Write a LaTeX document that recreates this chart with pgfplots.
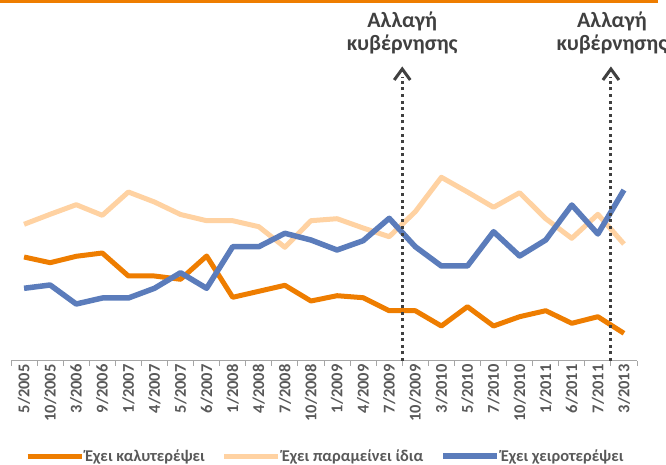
\documentclass[border=0pt]{standalone}
\usepackage{fontspec}
\setmainfont{Carlito}[BoldFont={Carlito Bold}]
\usepackage{pgfplots}
\pgfplotsset{compat=1.18}
\definecolor{corange}{HTML}{EE7D00}
\definecolor{cpeach}{HTML}{FFD2A2}
\definecolor{cblue}{HTML}{5B7CBB}
\definecolor{txtgray}{HTML}{595959}
\definecolor{arrgray}{HTML}{404040}
\definecolor{axgray}{HTML}{A6A6A6}
\begin{document}
\begin{tikzpicture}
\useasboundingbox (0,0) rectangle (666bp,465bp);
\fill[corange] (0,462bp) rectangle (658bp,465bp);
\begin{axis}[
  at={(11bp,104bp)}, anchor=south west,
  scale only axis, width=626bp, height=296bp,
  xmin=-0.5, xmax=23.5, ymin=0, ymax=296,
  axis y line=none, axis x line*=bottom,
  axis line style={-},
  x axis line style={axgray, line width=1bp},
  xtick={0,...,23},
  xticklabels={5/2005,10/2005,3/2006,9/2006,1/2007,4/2007,5/2007,6/2007,1/2008,4/2008,7/2008,10/2008,1/2009,4/2009,7/2009,10/2009,3/2010,5/2010,7/2010,10/2010,1/2011,6/2011,7/2011,3/2013},
  major tick length=0pt,
  minor xtick={-0.5,0.5,...,23.5},
  minor tick length=5bp, tick align=outside,
  minor x tick style={axgray, line width=1bp},
  ytick=\empty,
  xticklabel style={rotate=90, anchor=east, font=\bfseries\fontsize{16.5}{19}\selectfont, text=txtgray},
  clip=false,
  legend columns=3,
  legend style={at={(rel axis cs:0.0303,-0.328)}, xshift=-5bp, yshift=2bp, anchor=west, draw=none, fill=none,
    font=\bfseries\fontsize{16.5}{19}\selectfont, text=txtgray, inner sep=0pt,
    nodes={inner sep=1bp},
    /tikz/every even column/.append style={column sep=16bp}},
  legend image code/.code={\draw[#1] (0bp,0bp) -- (54bp,0bp);},
]
\addplot[corange, line width=5bp, line join=round] coordinates {
(0,104) (1,98.3) (2,104.7) (3,108) (4,85) (5,85) (6,81.7) (7,105) (8,63.7) (9,69.7) (10,75.7) (11,60)
(12,65.3) (13,63.3) (14,50.3) (15,50.3) (16,35) (17,54.3) (18,35) (19,44.3) (20,50.3) (21,37.7) (22,44.3) (23,27.7)};
\addlegendentry{Έχει καλυτερέψει}
\addplot[cpeach, line width=5bp, line join=round] coordinates {
(0,136.7) (1,146.7) (2,156.3) (3,145.7) (4,169) (5,159) (6,146.5) (7,140.3) (8,140.3) (9,134.3) (10,113.7) (11,140.3)
(12,142.3) (13,133) (14,124.3) (15,149.3) (16,183.7) (17,169) (18,153.7) (19,168.3) (20,142.3) (21,122.7) (22,146.7) (23,117)};
\addlegendentry{Έχει παραμείνει ίδια}
\addplot[cblue, line width=5.5bp, line join=round] coordinates {
(0,72.7) (1,76) (2,57) (3,63) (4,63) (5,72.7) (6,88.3) (7,72.7) (8,114.3) (9,114.3) (10,127.7) (11,121)
(12,111) (13,120.3) (14,142.7) (15,114.3) (16,95) (17,95) (18,129.3) (19,105) (20,121) (21,156) (22,127) (23,171)};
\addlegendentry{Έχει χειροτερέψει}
\draw[arrgray, line width=3bp, dash pattern=on 3bp off 3.6bp] (axis cs:14.5,0) -- (axis cs:14.5,284);
\draw[arrgray, line width=3bp, miter limit=10] (axis cs:14.5,292) ++(-8bp,-11bp) -- (axis cs:14.5,292) -- ++(8bp,-11bp);
\draw[arrgray, line width=3bp, dash pattern=on 3bp off 3.6bp] (axis cs:22.5,0) -- (axis cs:22.5,284);
\draw[arrgray, line width=3bp, miter limit=10] (axis cs:22.5,292) ++(-8bp,-11bp) -- (axis cs:22.5,292) -- ++(8bp,-11bp);
\node[font=\bfseries\fontsize{22}{26}\selectfont, text=arrgray, anchor=base] at (axis cs:14.5,333) {Αλλαγή};
\node[font=\bfseries\fontsize{22}{26}\selectfont, text=arrgray, anchor=base] at (axis cs:14.5,310) {κυβέρνησης};
\node[font=\bfseries\fontsize{22}{26}\selectfont, text=arrgray, anchor=base] at ([xshift=1bp]axis cs:22.5,333) {Αλλαγή};
\node[font=\bfseries\fontsize{22}{26}\selectfont, text=arrgray, anchor=base] at ([xshift=1bp]axis cs:22.5,310) {κυβέρνησης};
\end{axis}
\end{tikzpicture}
\end{document}
